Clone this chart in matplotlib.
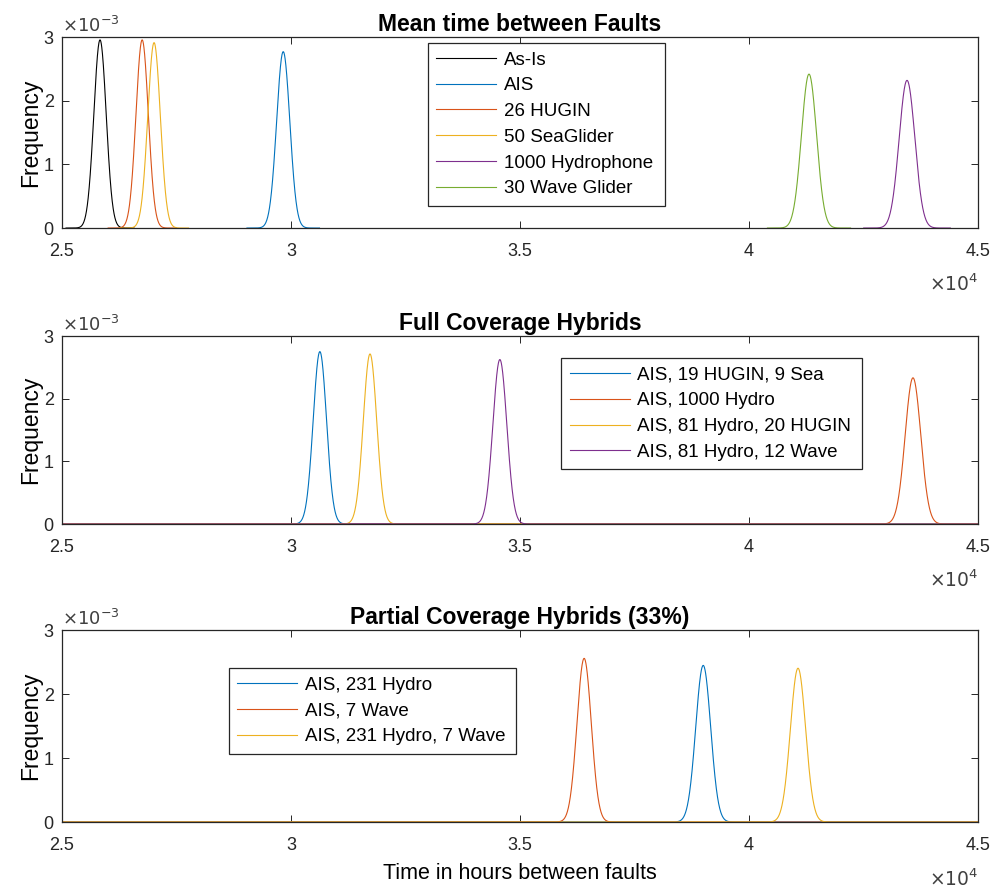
import numpy as np
import matplotlib.pyplot as plt

plt.rcParams['font.family'] = ['Liberation Sans', 'DejaVu Sans']

# MATLAB default line colours
c_blue = '#0072BD'
c_orange = '#D95319'
c_yellow = '#EDB120'
c_purple = '#7E2F8E'
c_green = '#77AC30'

# Mean time between faults (hours) and spread of each configuration
single_names = ['As-Is', 'AIS', '26 HUGIN', '50 SeaGlider', '1000 Hydrophone', '30 Wave Glider']
single_mean = [25830, 29830, 26750, 27010, 43450, 41310]
single_std = [135, 144, 135, 137, 172, 165]
single_colors = ['black', c_blue, c_orange, c_yellow, c_purple, c_green]

full_names = ['AIS, 19 HUGIN, 9 Sea', 'AIS, 1000 Hydro', 'AIS, 81 Hydro, 20 HUGIN', 'AIS, 81 Hydro, 12 Wave']
full_mean = [30630, 43580, 31725, 34560]
full_std = [145, 171, 147, 152]
full_colors = [c_blue, c_orange, c_yellow, c_purple]

partial_names = ['AIS, 231 Hydro', 'AIS, 7 Wave', 'AIS, 231 Hydro, 7 Wave']
partial_mean = [39000, 36400, 41070]
partial_std = [163, 156, 166]
partial_colors = [c_blue, c_orange, c_yellow]

xticks = [25000, 30000, 35000, 40000, 45000]
xticklabels = ['2.5', '3', '3.5', '4', '4.5']
yticks = [0, 0.001, 0.002, 0.003]
yticklabels = ['0', '1', '2', '3']


def normpdf(x, mu, sd):
    return np.exp(-0.5 * ((x - mu) / sd) ** 2) / (sd * np.sqrt(2 * np.pi))


fig = plt.figure(figsize=(9.92, 8.88), dpi=100)
left, width = 0.0625, 0.9234
ax1 = fig.add_axes([left, 0.7432, width, 0.2151])
ax2 = fig.add_axes([left, 0.4099, width, 0.2117])
ax3 = fig.add_axes([left, 0.0743, width, 0.2162])

# top panel: each curve only drawn around its own peak
for name, mu, sd, col in zip(single_names, single_mean, single_std, single_colors):
    x = np.linspace(mu - 5.5 * sd, mu + 5.5 * sd, 400)
    ax1.plot(x, normpdf(x, mu, sd), color=col, lw=0.8, label=name)

# hybrid panels span the full range
xfull = np.linspace(25000, 45000, 6000)
for name, mu, sd, col in zip(full_names, full_mean, full_std, full_colors):
    ax2.plot(xfull, normpdf(xfull, mu, sd), color=col, lw=0.8, label=name)
for name, mu, sd, col in zip(partial_names, partial_mean, partial_std, partial_colors):
    ax3.plot(xfull, normpdf(xfull, mu, sd), color=col, lw=0.8, label=name)

titles = ['Mean time between Faults', 'Full Coverage Hybrids', 'Partial Coverage Hybrids (33%)']
# (x, y top, width) of each legend box in axes coordinates
legend_boxes = [(0.3996, 0.969, 0.2587), (0.545, 0.883, 0.3286), (0.1823, 0.802, 0.313)]
for ax, title, (lx, ly, lw) in zip([ax1, ax2, ax3], titles, legend_boxes):
    ax.set_xlim(25000, 45000)
    ax.set_ylim(0, 0.003)
    ax.set_xticks(xticks)
    ax.set_xticklabels(xticklabels)
    ax.set_yticks(yticks)
    ax.set_yticklabels(yticklabels)
    ax.tick_params(direction='in', top=True, right=True, labelsize=13,
                   length=5, width=0.7, colors='#262626')
    ax.tick_params(axis='x', pad=11)
    ax.tick_params(axis='y', pad=6)
    for sp in ax.spines.values():
        sp.set_linewidth(0.9)
        sp.set_color('#262626')
    ax.set_title(title, fontsize=16.5, fontweight='bold', pad=4)
    ax.set_ylabel('Frequency', fontsize=16.5, labelpad=1)
    ax.text(0.0, 1.005, r'$\times10^{-3}$', transform=ax.transAxes, fontsize=13,
            color='#404040', ha='left', va='bottom')
    ax.text(1.0, -0.24, r'$\times10^{4}$', transform=ax.transAxes, fontsize=13.5,
            color='#404040', ha='right', va='top')
    leg = ax.legend(loc='upper left', bbox_to_anchor=(lx, ly, lw, 0), mode='expand',
                    fancybox=False, edgecolor='#262626', framealpha=1,
                    fontsize=13.5, handlelength=3.2, handletextpad=0.4,
                    labelspacing=0.46, borderpad=0.45, borderaxespad=0)
    leg.get_frame().set_linewidth(0.9)

ax3.set_xlabel('Time in hours between faults', fontsize=15.5, labelpad=6)

fig.savefig('out.png', dpi=100)
